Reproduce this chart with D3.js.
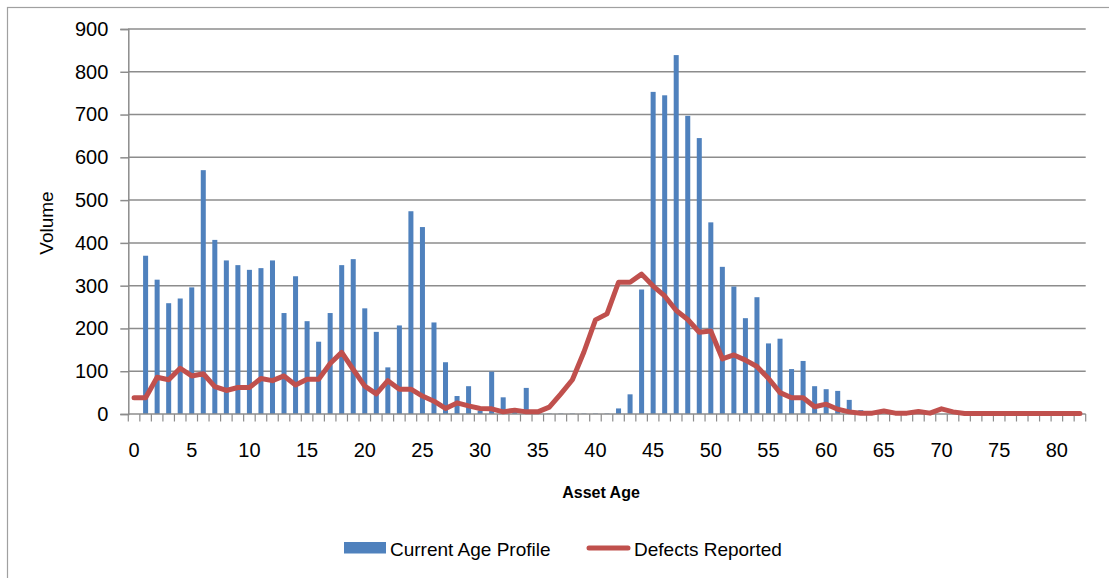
<!DOCTYPE html>
<html>
<head>
	<meta charset="utf-8">
	<title>Asset Age Profile</title>
	<script src="https://d3js.org/d3.v7.min.js"></script>
	<style>
		body { margin: 0; background: #fff; }
		text { font-family: "Liberation Sans", Arial, sans-serif; fill: #000; }
	</style>
</head>
<body>
	<script>

			var ages = d3.range(0, 83);

			var ageProfile = [0, 370, 314, 259, 270, 296, 570, 407, 359, 348,
				337, 341, 359, 236, 322, 217, 169, 236, 348, 362,
				247, 192, 109, 207, 474, 437, 214, 121, 42, 65,
				8, 99, 39, 5, 61, 8, 1, 1, 1, 1,
				1, 1, 13, 46, 291, 753, 745, 839, 697, 645,
				448, 344, 298, 224, 273, 165, 176, 105, 124, 65,
				58, 54, 33, 9, 0, 0, 0, 0, 0, 0,
				0, 0, 0, 0, 0, 0, 0, 0, 0, 0,
				0, 0, 0];

			var defects = [38, 38, 86, 80, 107, 89, 94, 64, 55, 62,
				62, 83, 78, 89, 68, 81, 81, 118, 144, 104,
				65, 47, 78, 58, 58, 42, 30, 13, 26, 19,
				13, 12, 5, 9, 5, 5, 16, 47, 80, 145,
				220, 234, 308, 308, 327, 299, 276, 242, 221, 191,
				194, 129, 138, 126, 111, 83, 50, 38, 38, 17,
				23, 11, 5, 2, 2, 7, 2, 2, 6, 2,
				12, 5, 1, 1, 1, 1, 1, 1, 1, 1,
				1, 1, 1];

			var yTicks = [0, 100, 200, 300, 400, 500, 600, 700, 800, 900];
			var xLabels = d3.range(0, 81, 5);

			var blue = "#4f81bd";
			var red = "#c0504d";
			var grid = "#8c8c8c";

			var svg = d3.select("body").append("svg")
							.attr("width", 1109)
							.attr("height", 578);

			// chart border
			svg.append("rect")
				.attr("x", 7.5).attr("y", 7.5)
				.attr("width", 1110).attr("height", 600)
				.attr("fill", "none")
				.attr("stroke", "#a0a0a0")
				.attr("stroke-width", 1.2);

			var x = d3.scaleBand()
						.domain(ages)
						.range([128.3, 1085.7])
						.padding(0);

			var y = d3.scaleLinear()
						.domain([0, 900])
						.range([414, 29]);

			// gridlines
			svg.append("g").selectAll("line")
				.data(yTicks.slice(1))
				.enter().append("line")
				.attr("x1", 128).attr("x2", 1085.7)
				.attr("y1", function (d) { return y(d); })
				.attr("y2", function (d) { return y(d); })
				.attr("stroke", grid)
				.attr("stroke-width", 1.5);

			// y axis
			var yAxis = d3.axisLeft(y)
							.tickValues(yTicks)
							.tickSize(8)
							.tickPadding(12)
							.tickFormat(d3.format("d"));

			var gy = svg.append("g")
						.attr("transform", "translate(128.3,0)")
						.call(yAxis);
			gy.select(".domain").attr("stroke", grid).attr("stroke-width", 1.5);
			gy.selectAll(".tick line").attr("stroke", grid).attr("stroke-width", 1.5);
			gy.selectAll(".tick text")
				.style("font-size", "20px")
				.style("font-family", "Liberation Sans, Arial, sans-serif")
				.attr("fill", "#000");

			// bars
			var barW = x.step() / 2.3;
			svg.append("g").selectAll("rect")
				.data(ages)
				.enter().append("rect")
				.attr("x", function (d) { return x(d) + x.step() / 2 - barW / 2; })
				.attr("y", function (d) { return y(ageProfile[d]); })
				.attr("width", barW)
				.attr("height", function (d) { return y(0) - y(ageProfile[d]); })
				.attr("fill", blue);

			// x axis: ticks between categories
			var gx = svg.append("g");
			gx.append("line")
				.attr("x1", 128.3).attr("x2", 1085.7)
				.attr("y1", y(0)).attr("y2", y(0))
				.attr("stroke", grid).attr("stroke-width", 1.5);
			gx.selectAll(".tk")
				.data(ages.concat([83]))
				.enter().append("line")
				.attr("class", "tk")
				.attr("x1", function (d) { return 128.3 + d * x.step(); })
				.attr("x2", function (d) { return 128.3 + d * x.step(); })
				.attr("y1", y(0)).attr("y2", y(0) + 7.5)
				.attr("stroke", grid).attr("stroke-width", 1.2);
			gx.selectAll("text")
				.data(xLabels)
				.enter().append("text")
				.attr("x", function (d) { return x(d) + x.step() / 2; })
				.attr("y", 457)
				.attr("text-anchor", "middle")
				.attr("font-size", "20px")
				.text(function (d) { return d; });

			// defects line
			var line = d3.line()
						.x(function (d) { return x(d) + x.step() / 2; })
						.y(function (d) { return y(defects[d]); });

			svg.append("path")
				.datum(ages)
				.attr("d", line)
				.attr("fill", "none")
				.attr("stroke", red)
				.attr("stroke-width", 5)
				.attr("stroke-linejoin", "round")
				.attr("stroke-linecap", "round");

			// axis titles
			svg.append("text")
				.attr("transform", "translate(53,223) rotate(-90)")
				.attr("text-anchor", "middle")
				.attr("font-size", "19px")
				.text("Volume");

			svg.append("text")
				.attr("x", 601)
				.attr("y", 498)
				.attr("text-anchor", "middle")
				.attr("font-size", "16px")
				.attr("font-weight", "bold")
				.text("Asset Age");

			// legend
			var legend = svg.append("g");
			legend.append("rect")
				.attr("x", 344).attr("y", 542)
				.attr("width", 42).attr("height", 11.5)
				.attr("fill", blue);
			legend.append("text")
				.attr("x", 390).attr("y", 556)
				.attr("font-size", "19px")
				.text("Current Age Profile");
			legend.append("line")
				.attr("x1", 589).attr("x2", 628)
				.attr("y1", 548).attr("y2", 548)
				.attr("stroke", red)
				.attr("stroke-width", 5)
				.attr("stroke-linecap", "round");
			legend.append("text")
				.attr("x", 634).attr("y", 556)
				.attr("font-size", "19px")
				.text("Defects Reported");

	</script>
</body>
</html>
